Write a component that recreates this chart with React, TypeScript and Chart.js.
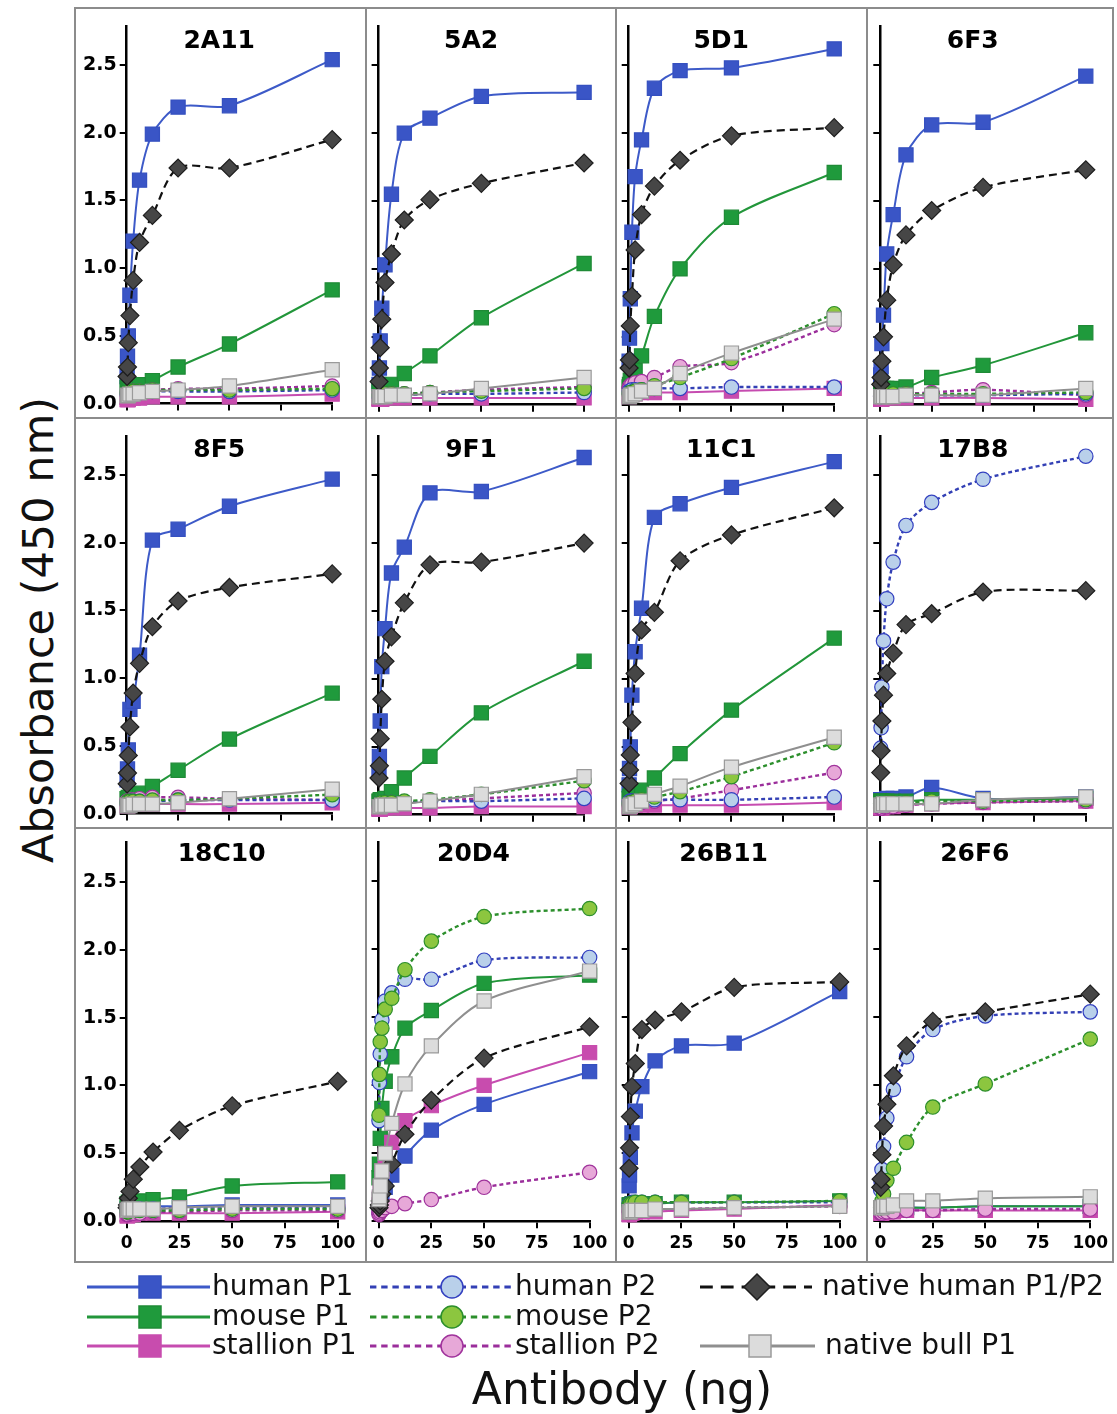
import React, { useEffect, useRef } from "react";
import { Chart, registerables } from "chart.js";

Chart.register(...registerables);

// ---------------- DATA ----------------
const DOSES_NG = [0.195, 0.39, 0.78, 1.56, 3.125, 6.25, 12.5, 25, 50, 100];
const PANEL_TITLES = ["2A11", "5A2", "5D1", "6F3", "8F5", "9F1", "11C1", "17B8", "18C10", "20D4", "26B11", "26F6"];
const X_TICK_STEP = 25;
const Y_TICK_STEP = 0.5;
const X_MAX = 100;
const Y_MAX = 2.79;

// one row per panel (same order as PANEL_TITLES), one value per dose
const humanP1 = [
  [0.2, 0.35, 0.5, 0.8, 1.2, 1.65, 1.99, 2.19, 2.2, 2.54],
  [0.15, 0.27, 0.47, 0.71, 1.03, 1.55, 2.0, 2.11, 2.27, 2.3],
  [0.32, 0.49, 0.78, 1.27, 1.68, 1.95, 2.33, 2.46, 2.48, 2.62],
  [0.22, 0.28, 0.45, 0.66, 1.11, 1.4, 1.84, 2.06, 2.08, 2.42],
  [0.25, 0.33, 0.47, 0.77, 0.83, 1.17, 2.02, 2.1, 2.27, 2.47],
  [0.32, 0.43, 0.69, 1.09, 1.37, 1.78, 1.97, 2.37, 2.38, 2.63],
  [0.22, 0.34, 0.5, 0.88, 1.2, 1.52, 2.19, 2.29, 2.41, 2.6],
  [0.11, 0.11, 0.11, 0.11, 0.12, 0.12, 0.13, 0.2, 0.12, 0.13],
  [0.09, 0.09, 0.1, 0.1, 0.1, 0.1, 0.11, 0.11, 0.12, 0.12],
  [0.1, 0.12, 0.15, 0.19, 0.25, 0.34, 0.48, 0.67, 0.86, 1.1],
  [0.26, 0.34, 0.47, 0.65, 0.81, 0.99, 1.18, 1.29, 1.31, 1.69],
  [0.08, 0.08, 0.08, 0.09, 0.09, 0.09, 0.1, 0.1, 0.11, 0.11],
];
const mouseP1 = [
  [0.12, 0.12, 0.12, 0.13, 0.13, 0.14, 0.17, 0.27, 0.44, 0.84],
  [0.1, 0.11, 0.12, 0.12, 0.13, 0.15, 0.23, 0.36, 0.64, 1.04],
  [0.13, 0.15, 0.18, 0.22, 0.25, 0.36, 0.65, 1.0, 1.38, 1.71],
  [0.11, 0.11, 0.11, 0.12, 0.12, 0.12, 0.13, 0.2, 0.29, 0.53],
  [0.11, 0.11, 0.12, 0.12, 0.13, 0.15, 0.2, 0.32, 0.55, 0.89],
  [0.1, 0.1, 0.11, 0.11, 0.12, 0.17, 0.27, 0.43, 0.75, 1.13],
  [0.12, 0.13, 0.14, 0.15, 0.15, 0.18, 0.27, 0.45, 0.77, 1.3],
  [0.1, 0.1, 0.1, 0.1, 0.1, 0.1, 0.1, 0.11, 0.11, 0.12],
  [0.13, 0.13, 0.14, 0.14, 0.14, 0.15, 0.16, 0.18, 0.26, 0.29],
  [0.32, 0.42, 0.61, 0.83, 1.03, 1.21, 1.42, 1.55, 1.75, 1.81],
  [0.12, 0.12, 0.12, 0.13, 0.13, 0.13, 0.13, 0.14, 0.14, 0.15],
  [0.1, 0.1, 0.1, 0.1, 0.1, 0.1, 0.1, 0.1, 0.11, 0.11],
];
const stallionP1 = [
  [0.03, 0.03, 0.03, 0.04, 0.04, 0.04, 0.05, 0.05, 0.05, 0.07],
  [0.04, 0.04, 0.04, 0.04, 0.05, 0.05, 0.05, 0.05, 0.05, 0.05],
  [0.06, 0.07, 0.07, 0.08, 0.08, 0.09, 0.09, 0.09, 0.1, 0.12],
  [0.04, 0.04, 0.04, 0.05, 0.05, 0.05, 0.05, 0.05, 0.05, 0.04],
  [0.06, 0.06, 0.06, 0.07, 0.07, 0.07, 0.07, 0.07, 0.07, 0.08],
  [0.04, 0.04, 0.04, 0.05, 0.05, 0.05, 0.05, 0.05, 0.06, 0.06],
  [0.06, 0.06, 0.06, 0.07, 0.07, 0.07, 0.07, 0.07, 0.07, 0.09],
  [0.05, 0.05, 0.05, 0.06, 0.06, 0.06, 0.07, 0.08, 0.09, 0.1],
  [0.04, 0.04, 0.05, 0.05, 0.05, 0.06, 0.06, 0.06, 0.06, 0.07],
  [0.12, 0.17, 0.25, 0.37, 0.48, 0.58, 0.74, 0.85, 1.0, 1.24],
  [0.05, 0.05, 0.06, 0.06, 0.07, 0.07, 0.07, 0.08, 0.09, 0.12],
  [0.06, 0.06, 0.06, 0.07, 0.07, 0.07, 0.08, 0.08, 0.08, 0.08],
];
const humanP2 = [
  [0.07, 0.07, 0.07, 0.08, 0.08, 0.08, 0.09, 0.09, 0.09, 0.1],
  [0.06, 0.06, 0.06, 0.07, 0.07, 0.07, 0.07, 0.08, 0.08, 0.09],
  [0.09, 0.1, 0.1, 0.11, 0.11, 0.11, 0.12, 0.12, 0.13, 0.13],
  [0.06, 0.06, 0.06, 0.07, 0.07, 0.07, 0.07, 0.07, 0.07, 0.08],
  [0.08, 0.08, 0.08, 0.09, 0.09, 0.09, 0.09, 0.1, 0.1, 0.1],
  [0.08, 0.08, 0.08, 0.09, 0.09, 0.09, 0.09, 0.1, 0.1, 0.12],
  [0.09, 0.09, 0.1, 0.1, 0.1, 0.1, 0.11, 0.11, 0.11, 0.13],
  [0.49, 0.64, 0.94, 1.28, 1.59, 1.86, 2.13, 2.3, 2.47, 2.64],
  [0.08, 0.08, 0.08, 0.09, 0.09, 0.09, 0.09, 0.1, 0.1, 0.1],
  [0.74, 1.02, 1.23, 1.48, 1.62, 1.68, 1.78, 1.78, 1.92, 1.94],
  [0.12, 0.13, 0.13, 0.14, 0.14, 0.14, 0.14, 0.14, 0.14, 0.14],
  [0.23, 0.29, 0.38, 0.55, 0.76, 0.97, 1.21, 1.41, 1.51, 1.54],
];
const mouseP2 = [
  [0.08, 0.08, 0.08, 0.09, 0.09, 0.09, 0.1, 0.1, 0.1, 0.11],
  [0.07, 0.07, 0.07, 0.08, 0.08, 0.08, 0.08, 0.09, 0.1, 0.12],
  [0.08, 0.08, 0.09, 0.09, 0.1, 0.11, 0.14, 0.2, 0.34, 0.67],
  [0.07, 0.07, 0.07, 0.08, 0.08, 0.08, 0.08, 0.08, 0.08, 0.09],
  [0.08, 0.08, 0.09, 0.09, 0.09, 0.09, 0.1, 0.1, 0.11, 0.14],
  [0.08, 0.08, 0.08, 0.09, 0.09, 0.09, 0.1, 0.11, 0.15, 0.25],
  [0.08, 0.08, 0.09, 0.09, 0.1, 0.11, 0.13, 0.17, 0.28, 0.53],
  [0.08, 0.08, 0.08, 0.08, 0.09, 0.09, 0.09, 0.1, 0.1, 0.11],
  [0.07, 0.07, 0.07, 0.08, 0.08, 0.08, 0.08, 0.08, 0.09, 0.09],
  [0.78, 1.08, 1.32, 1.42, 1.56, 1.64, 1.85, 2.06, 2.24, 2.3],
  [0.12, 0.12, 0.13, 0.13, 0.14, 0.14, 0.14, 0.14, 0.14, 0.15],
  [0.1, 0.12, 0.15, 0.2, 0.3, 0.39, 0.58, 0.84, 1.01, 1.34],
];
const stallionP2 = [
  [0.07, 0.07, 0.08, 0.08, 0.09, 0.09, 0.1, 0.11, 0.11, 0.13],
  [0.06, 0.06, 0.07, 0.07, 0.07, 0.08, 0.08, 0.09, 0.11, 0.13],
  [0.12, 0.13, 0.14, 0.15, 0.16, 0.17, 0.2, 0.28, 0.31, 0.59],
  [0.06, 0.06, 0.06, 0.07, 0.07, 0.07, 0.08, 0.09, 0.11, 0.07],
  [0.09, 0.09, 0.09, 0.1, 0.1, 0.11, 0.12, 0.12, 0.11, 0.1],
  [0.07, 0.07, 0.08, 0.08, 0.08, 0.09, 0.09, 0.1, 0.12, 0.16],
  [0.07, 0.07, 0.08, 0.08, 0.08, 0.09, 0.1, 0.12, 0.18, 0.31],
  [0.05, 0.05, 0.05, 0.06, 0.06, 0.06, 0.07, 0.08, 0.09, 0.1],
  [0.05, 0.05, 0.05, 0.06, 0.06, 0.06, 0.07, 0.07, 0.08, 0.08],
  [0.05, 0.06, 0.07, 0.08, 0.1, 0.11, 0.13, 0.16, 0.25, 0.36],
  [0.07, 0.07, 0.08, 0.08, 0.08, 0.09, 0.09, 0.09, 0.1, 0.11],
  [0.06, 0.06, 0.06, 0.07, 0.07, 0.07, 0.08, 0.08, 0.09, 0.09],
];
const nativeHumanP1P2 = [
  [0.2, 0.27, 0.45, 0.65, 0.91, 1.19, 1.39, 1.74, 1.74, 1.95],
  [0.17, 0.27, 0.42, 0.63, 0.9, 1.11, 1.36, 1.51, 1.63, 1.78],
  [0.27, 0.33, 0.58, 0.8, 1.14, 1.4, 1.61, 1.8, 1.98, 2.04],
  [0.15, 0.2, 0.32, 0.5, 0.77, 1.03, 1.25, 1.43, 1.6, 1.73],
  [0.22, 0.3, 0.43, 0.64, 0.89, 1.11, 1.38, 1.57, 1.67, 1.77],
  [0.27, 0.36, 0.56, 0.85, 1.13, 1.31, 1.56, 1.84, 1.86, 2.0],
  [0.23, 0.33, 0.44, 0.68, 1.04, 1.36, 1.49, 1.87, 2.06, 2.26],
  [0.31, 0.47, 0.69, 0.88, 1.04, 1.19, 1.4, 1.48, 1.64, 1.65],
  [0.1, 0.12, 0.17, 0.22, 0.31, 0.4, 0.51, 0.67, 0.85, 1.03],
  [0.1, 0.12, 0.15, 0.2, 0.26, 0.42, 0.64, 0.89, 1.2, 1.43],
  [0.39, 0.54, 0.77, 0.99, 1.16, 1.41, 1.48, 1.54, 1.72, 1.76],
  [0.25, 0.31, 0.49, 0.7, 0.86, 1.07, 1.29, 1.47, 1.54, 1.67],
];
const nativeBullP1 = [
  [0.06, 0.06, 0.06, 0.07, 0.07, 0.08, 0.09, 0.1, 0.13, 0.25],
  [0.06, 0.06, 0.06, 0.06, 0.06, 0.07, 0.07, 0.08, 0.12, 0.2],
  [0.06, 0.06, 0.07, 0.07, 0.08, 0.1, 0.12, 0.23, 0.38, 0.63],
  [0.06, 0.06, 0.06, 0.06, 0.06, 0.06, 0.07, 0.07, 0.07, 0.12],
  [0.06, 0.06, 0.06, 0.06, 0.07, 0.07, 0.07, 0.08, 0.11, 0.18],
  [0.06, 0.06, 0.06, 0.07, 0.07, 0.07, 0.08, 0.1, 0.15, 0.28],
  [0.06, 0.06, 0.07, 0.07, 0.08, 0.1, 0.15, 0.21, 0.35, 0.57],
  [0.07, 0.07, 0.07, 0.08, 0.08, 0.08, 0.08, 0.08, 0.11, 0.13],
  [0.08, 0.08, 0.09, 0.09, 0.09, 0.09, 0.09, 0.1, 0.11, 0.11],
  [0.16, 0.18, 0.26, 0.37, 0.5, 0.72, 1.01, 1.29, 1.62, 1.84],
  [0.07, 0.07, 0.07, 0.08, 0.08, 0.08, 0.09, 0.09, 0.1, 0.11],
  [0.1, 0.1, 0.1, 0.11, 0.11, 0.12, 0.15, 0.15, 0.17, 0.18],
];

// ---------------- STYLES ----------------
type Style = {
  label: string;
  values: number[][];
  line: string;
  dash: number[];
  width: number;
  point: "rect" | "circle" | "rectRot";
  radius: number;
  fill: string;
  stroke: string;
};

// listed top-most first (Chart.js draws index 0 last)
const SERIES: Style[] = [
  { label: "native bull P1", values: nativeBullP1, line: "#8f8f8f", dash: [], width: 2, point: "rect", radius: 10, fill: "#dcdcdc", stroke: "#9a9a9a" },
  { label: "native human P1/P2", values: nativeHumanP1P2, line: "#111111", dash: [8, 5], width: 2.2, point: "rectRot", radius: 9, fill: "#464646", stroke: "#1e1e1e" },
  { label: "mouse P2", values: mouseP2, line: "#2c8f2c", dash: [4, 3], width: 2.4, point: "circle", radius: 7.2, fill: "#8cc63f", stroke: "#2c8f2c" },
  { label: "human P2", values: humanP2, line: "#3340b5", dash: [4, 3], width: 2.4, point: "circle", radius: 7.2, fill: "#b9d0ea", stroke: "#3340c0" },
  { label: "stallion P2", values: stallionP2, line: "#9b2e9b", dash: [4, 3], width: 2.4, point: "circle", radius: 7.2, fill: "#e7a8d8", stroke: "#a0339c" },
  { label: "stallion P1", values: stallionP1, line: "#c64cb0", dash: [], width: 2, point: "rect", radius: 10, fill: "#c84cae", stroke: "#c84cae" },
  { label: "mouse P1", values: mouseP1, line: "#22963a", dash: [], width: 2, point: "rect", radius: 10, fill: "#1f9a3c", stroke: "#1f8a36" },
  { label: "human P1", values: humanP1, line: "#3d5ac8", dash: [], width: 2, point: "rect", radius: 10, fill: "#3a55c6", stroke: "#3550c0" },
];

// ---------------- LAYOUT ----------------
const COL_EDGES = [75, 366, 616, 867, 1113];
const ROW_EDGES = [8, 418, 828, 1262];
const X_ZERO_PX = [126.7, 378.6, 628.7, 880.3];
const X_SPAN_PX = [205.5, 205.5, 211];
const Y_ZERO_PX = [404.7, 814.7, 1221.3];
const Y_UNIT_PX = [135.8, 135.8, 136];
const TITLE_Y = [33, 32, 26];

const TICK_FONT = "DejaVu Sans";

const titlePlugin = {
  id: "panelTitle",
  afterDatasetsDraw(chart: any, _args: any, opts: any) {
    const ctx = chart.ctx;
    ctx.save();
    ctx.font = 'bold 25px "DejaVu Sans"';
    ctx.fillStyle = "#000";
    ctx.textAlign = "center";
    ctx.textBaseline = "middle";
    ctx.fillText(opts.text, chart.scales.x.getPixelForValue(45), opts.y);
    ctx.restore();
  },
};

function Panel({ index }: { index: number }) {
  const ref = useRef<HTMLCanvasElement | null>(null);
  const col = index % 4;
  const row = Math.floor(index / 4);
  const left = COL_EDGES[col];
  const top = ROW_EDGES[row];
  const w = COL_EDGES[col + 1] - left;
  const h = ROW_EDGES[row + 1] - top;

  useEffect(() => {
    if (!ref.current) return;
    const yAxisW = col === 0 ? 50 : 8;
    const xAxisH = row === 2 ? 36 : 8;
    const chartLeft = X_ZERO_PX[col];
    const chartRight = X_ZERO_PX[col] + X_SPAN_PX[row];
    const chartBottom = Y_ZERO_PX[row];
    const chartTop = Y_ZERO_PX[row] - Y_MAX * Y_UNIT_PX[row];

    const datasets = SERIES.map((s) => ({
      label: s.label,
      data: DOSES_NG.map((x, i) => ({ x, y: s.values[index][i] })),
      borderColor: s.line,
      borderWidth: s.width,
      borderDash: s.dash,
      backgroundColor: s.fill,
      pointStyle: s.point,
      pointRadius: s.radius,
      pointHoverRadius: s.radius,
      pointBackgroundColor: s.fill,
      pointBorderColor: s.stroke,
      pointBorderWidth: 1.2,
      tension: 0.3,
      fill: false,
      clip: false as any,
    }));

    const axisCommon = {
      border: { display: true, color: "#000", width: 2.5 },
    };

    const chart = new Chart(ref.current, {
      type: "line",
      data: { datasets },
      plugins: [titlePlugin as any],
      options: {
        animation: false,
        responsive: false,
        maintainAspectRatio: false,
        events: [],
        layout: {
          padding: {
            left: chartLeft - left - yAxisW,
            right: left + w - chartRight,
            top: chartTop - top,
            bottom: top + h - chartBottom - xAxisH,
          },
        },
        plugins: {
          legend: { display: false },
          tooltip: { enabled: false },
          title: { display: false },
          panelTitle: { text: PANEL_TITLES[index], y: TITLE_Y[row] },
        } as any,
        scales: {
          x: {
            type: "linear",
            min: 0,
            max: X_MAX,
            ...axisCommon,
            grid: { display: true, drawOnChartArea: false, drawTicks: true, tickLength: 7, color: "#000", lineWidth: 2 },
            ticks: {
              display: row === 2,
              stepSize: X_TICK_STEP,
              color: "#000",
              padding: 5,
              maxRotation: 0,
              autoSkip: false,
              font: { family: TICK_FONT, size: 17, weight: "bold" },
            },
            afterFit: (s: any) => {
              s.height = xAxisH;
            },
          },
          y: {
            type: "linear",
            min: 0,
            max: Y_MAX,
            ...axisCommon,
            grid: { display: true, drawOnChartArea: false, drawTicks: true, tickLength: 7, color: "#000", lineWidth: 2 },
            ticks: {
              display: col === 0,
              stepSize: Y_TICK_STEP,
              includeBounds: false,
              color: "#000",
              padding: 3,
              font: { family: TICK_FONT, size: 19, weight: "bold" },
              callback: (v: any) => Number(v).toFixed(1),
            },
            afterFit: (s: any) => {
              s.width = yAxisW;
            },
          },
        } as any,
      },
    });
    return () => chart.destroy();
  }, [index]);

  return (
    <canvas
      ref={ref}
      width={w}
      height={h}
      style={{ position: "absolute", left, top, width: w, height: h }}
    />
  );
}

// ---------------- LEGEND ----------------
const LEGEND_TOP = 1262;
const LEGEND_H = 110;
const LEGEND_ITEMS = [
  { series: "human P1", x1: 87, x2: 210, mx: 150, y: 1287, tx: 212 },
  { series: "mouse P1", x1: 87, x2: 210, mx: 150, y: 1317, tx: 212 },
  { series: "stallion P1", x1: 87, x2: 210, mx: 150, y: 1346, tx: 212 },
  { series: "human P2", x1: 370, x2: 512, mx: 452, y: 1287, tx: 515 },
  { series: "mouse P2", x1: 370, x2: 512, mx: 452, y: 1317, tx: 515 },
  { series: "stallion P2", x1: 370, x2: 512, mx: 452, y: 1346, tx: 515 },
  { series: "native human P1/P2", x1: 700, x2: 812, mx: 757, y: 1287, tx: 822 },
  { series: "native bull P1", x1: 700, x2: 815, mx: 760, y: 1346, tx: 825 },
];

function Legend() {
  const ref = useRef<HTMLCanvasElement | null>(null);
  useEffect(() => {
    const c = ref.current;
    if (!c) return;
    const ctx = c.getContext("2d");
    if (!ctx) return;
    ctx.clearRect(0, 0, c.width, c.height);
    for (const it of LEGEND_ITEMS) {
      const s = SERIES.find((q) => q.label === it.series)!;
      const y = it.y - LEGEND_TOP;
      ctx.save();
      ctx.strokeStyle = s.line;
      ctx.lineWidth = 3;
      ctx.setLineDash(s.dash.length ? s.dash.map((d) => d * 1.6) : []);
      ctx.beginPath();
      ctx.moveTo(it.x1, y);
      ctx.lineTo(it.x2, y);
      ctx.stroke();
      ctx.setLineDash([]);
      ctx.fillStyle = s.fill;
      ctx.strokeStyle = s.stroke;
      ctx.lineWidth = 1.5;
      ctx.beginPath();
      if (s.point === "rect") {
        ctx.rect(it.mx - 11, y - 11, 22, 22);
      } else if (s.point === "circle") {
        ctx.arc(it.mx, y, 11, 0, Math.PI * 2);
      } else {
        ctx.moveTo(it.mx, y - 13);
        ctx.lineTo(it.mx + 13, y);
        ctx.lineTo(it.mx, y + 13);
        ctx.lineTo(it.mx - 13, y);
        ctx.closePath();
      }
      ctx.fill();
      ctx.stroke();
      ctx.fillStyle = "#111";
      ctx.font = '28px "DejaVu Sans"';
      ctx.textAlign = "left";
      ctx.textBaseline = "middle";
      ctx.fillText(it.series, it.tx, y + 1);
      ctx.restore();
    }
  }, []);
  return (
    <canvas
      ref={ref}
      width={1117}
      height={LEGEND_H}
      style={{ position: "absolute", left: 0, top: LEGEND_TOP, width: 1117, height: LEGEND_H }}
    />
  );
}

// ---------------- APP ----------------
export default function App() {
  const borderColor = "#8c8c8c";
  const lines: React.ReactNode[] = [];
  COL_EDGES.forEach((x, i) =>
    lines.push(
      <div key={"v" + i} style={{ position: "absolute", left: x - 1, top: ROW_EDGES[0] - 1, width: 2, height: ROW_EDGES[3] - ROW_EDGES[0] + 2, background: borderColor }} />
    )
  );
  ROW_EDGES.forEach((y, i) =>
    lines.push(
      <div key={"h" + i} style={{ position: "absolute", left: COL_EDGES[0] - 1, top: y - 1, width: COL_EDGES[4] - COL_EDGES[0] + 2, height: 2, background: borderColor }} />
    )
  );
  return (
    <div style={{ position: "absolute", left: 0, top: 0, width: 1117, height: 1414, background: "#fff", overflow: "hidden" }}>
      {lines}
      {PANEL_TITLES.map((_, i) => (
        <Panel key={i} index={i} />
      ))}
      <Legend />
      <div
        style={{
          position: "absolute",
          left: 38,
          top: 630,
          transform: "translate(-50%, -50%) rotate(-90deg)",
          whiteSpace: "nowrap",
          fontFamily: '"DejaVu Sans"',
          fontSize: 43,
          color: "#111",
          lineHeight: 1,
        }}
      >
        Absorbance (450 nm)
      </div>
      <div
        style={{
          position: "absolute",
          left: 622,
          top: 1389,
          transform: "translate(-50%, -50%)",
          whiteSpace: "nowrap",
          fontFamily: '"DejaVu Sans"',
          fontSize: 44,
          color: "#111",
          lineHeight: 1,
        }}
      >
        Antibody (ng)
      </div>
    </div>
  );
}
